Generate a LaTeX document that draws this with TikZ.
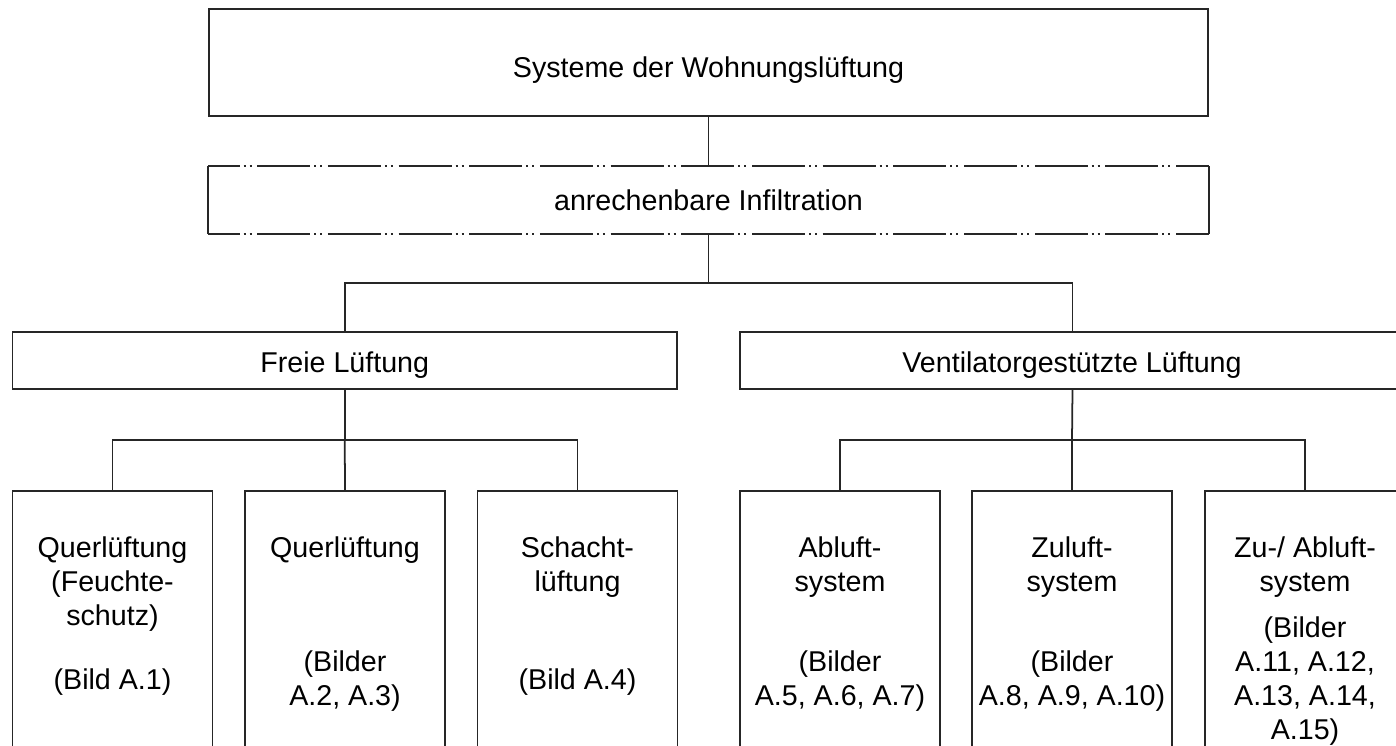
\documentclass[tikz,border=0pt]{standalone}
\usepackage{fontspec}
\setmainfont{Liberation Sans}
\begin{document}
\begin{tikzpicture}[x=0.02cm,y=-0.02cm,
  line width=1pt,
  box/.style={draw=black!85, rectangle, inner sep=0pt, line width=1pt,
    font=\fontsize{16.3}{19.4}\selectfont, text height=11.7pt, text depth=0pt},
  plainbox/.style={rectangle, inner sep=0pt,
    font=\fontsize{16.3}{19.4}\selectfont, text height=11.7pt, text depth=0pt},
  leaf/.style={draw=black!85, rectangle, inner sep=0pt, line width=1pt,
    minimum width=4cm, minimum height=5.78cm},
  lbl/.style={inner sep=0pt, align=center, font=\fontsize{16.3}{19.4}\selectfont},
  conn/.style={draw=black!85, line width=1pt},
  ddot/.style={draw=black!85, line width=1pt,
    dash pattern=on 1.06cm off 0.08cm on 0.04cm off 0.08cm on 0.04cm off 0.114cm,
    dash phase=0.434cm}]
\useasboundingbox (0,0) rectangle (1396,745);
\fill[white] (0,0) rectangle (1396,745);
\clip (0,0) rectangle (1396,745);

% top levels
\node[box, minimum width=19.98cm, minimum height=2.14cm] (top) at (708.5,62.5) {};
\node[plainbox] (toplbl) at (708.5,67) {Systeme der Wohnungslüftung};
\node[plainbox, minimum width=19.98cm, minimum height=1.32cm] (inf) at (708.5,200) {anrechenbare Infiltration};
\draw[ddot] (inf.north west) -- (inf.north east);
\draw[ddot] (inf.south west) -- (inf.south east);
\draw[conn] (inf.north west) -- (inf.south west);
\draw[conn] (inf.north east) -- (inf.south east);

\node[box, minimum width=13.29cm, minimum height=1.14cm] (freie) at (344.75,360.5) {};
\node[plainbox] (freielbl) at (344.75,362) {Freie Lüftung};
\node[box, minimum width=13.3cm, minimum height=1.14cm] (vent) at (1072.5,360.5) {};
\node[plainbox] (ventlbl) at (1072,362) {Ventilatorgestützte Lüftung};

% leaves
\node[leaf] (b1) at (112.5,635.5) {};
\node[leaf] (b2) at (345,635.5) {};
\node[leaf] (b3) at (577.5,635.5) {};
\node[leaf] (b4) at (840,635.5) {};
\node[leaf] (b5) at (1072,635.5) {};
\node[leaf] (b6) at (1305,635.5) {};

% leaf texts
\node[lbl] (b1t) at (112.5,584) {Querlüftung\\(Feuchte-\\schutz)};
\node[lbl] (b1b) at (112.5,682) {(Bild A.1)};
\node[lbl] (b2t) at (345,550) {Querlüftung};
\node[lbl] (b2b) at (345,681) {(Bilder\\A.2, A.3)};
\node[lbl] (b3t) at (577.5,567) {Schacht-\\lüftung};
\node[lbl] (b3b) at (577.5,682) {(Bild A.4)};
\node[lbl] (b4t) at (840,567) {Abluft-\\system};
\node[lbl] (b4b) at (840,681) {(Bilder\\A.5, A.6, A.7)};
\node[lbl] (b5t) at (1072,567) {Zuluft-\\system};
\node[lbl] (b5b) at (1072,681) {(Bilder\\A.8, A.9, A.10)};
\node[lbl] (b6t) at (1305,567) {Zu-/ Abluft-\\system};
\node[lbl] (b6b) at (1305,681) {(Bilder\\A.11, A.12,\\A.13, A.14,\\A.15)};

% connectors
\coordinate (j1) at (708.5,283);
\coordinate (j2) at (344.75,440);
\coordinate (j3) at (1072,440);
\draw[conn] (top.south) -- (inf.north);
\draw[conn] (inf.south) -- (j1);
\draw[conn] (freie.north) |- (j1) -| (vent.north);
\draw[conn] (freie.south) -- (j2);
\draw[conn] (b1.north) |- (j2) -| (b3.north);
\draw[conn] (j2) -- (b2.north);
\draw[conn] (vent.south) -- (j3);
\draw[conn] (b4.north) |- (j3) -| (b6.north);
\draw[conn] (j3) -- (b5.north);
\end{tikzpicture}
\end{document}
